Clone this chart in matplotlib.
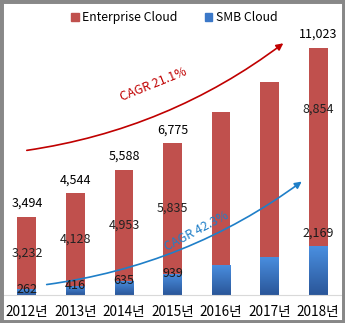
import numpy as np
import matplotlib.pyplot as plt
from matplotlib.patches import FancyArrowPatch, Rectangle
from matplotlib.colors import LinearSegmentedColormap

plt.rcParams['font.family'] = ['Noto Sans CJK KR', 'DejaVu Sans']

# data
years = ['2012년', '2013년', '2014년', '2015년', '2016년', '2017년', '2018년']
smb = [262, 416, 635, 939, 1340, 1700, 2169]
enterprise = [3232, 4128, 4953, 5835, 6830, 7810, 8854]
totals = [3494, 4544, 5588, 6775, 8170, 9510, 11023]
show_label = [True, True, True, True, False, False, True]

red = '#c0504d'
fig = plt.figure(figsize=(3.45, 3.23), dpi=100)
ax = fig.add_axes([0.005, 0.087, 0.99, 0.805])
x = np.arange(len(years))
w = 0.39

smb_bars = ax.bar(x, smb, w, color='#3b78c8', label='SMB Cloud', zorder=2)
ent_bars = ax.bar(x, enterprise, w, bottom=smb, color=red,
                  label='Enterprise Cloud', zorder=2)

# gradient on the SMB bars
cmap = LinearSegmentedColormap.from_list('g', ['#2a5699', '#4a8fe0'])
grad = np.linspace(0, 1, 100).reshape(-1, 1)
for b in smb_bars:
    bx, by = b.get_x(), b.get_y()
    im = ax.imshow(grad, cmap=cmap, origin='lower', aspect='auto',
                   extent=[bx, bx + b.get_width(), by, by + b.get_height()],
                   zorder=2.5)
    im.set_clip_path(b)

fs = 9
for i in range(len(years)):
    if not show_label[i]:
        continue
    ax.text(x[i], totals[i] + 300, f'{totals[i]:,}', ha='center', va='bottom',
            fontsize=fs, zorder=5)
    if i < 6:
        ey = smb[i] + enterprise[i] / 2
        sy = smb[i]
    else:
        ey = smb[i] + enterprise[i] * 0.69
        sy = smb[i] + 600
    ax.text(x[i], ey, f'{enterprise[i]:,}', ha='center', va='center',
            fontsize=fs, color='#222222', zorder=5)
    ax.text(x[i], sy, f'{smb[i]:,}', ha='center', va='center',
            fontsize=fs, color='#1a1a1a', zorder=5)

# CAGR arrows
a1 = FancyArrowPatch((-0.06, 6430), (5.33, 11300), connectionstyle='arc3,rad=0.13',
                     arrowstyle='-|>,head_length=4,head_width=2', color='#c00000',
                     lw=1.2, zorder=4)
ax.add_patch(a1)
ax.text(2.6, 9400, 'CAGR 21.1%', color='#c00000', fontsize=9, rotation=22,
        ha='center', va='center', zorder=5)
a2 = FancyArrowPatch((0.35, 446), (5.71, 5130), connectionstyle='arc3,rad=0.13',
                     arrowstyle='-|>,head_length=4,head_width=2', color='#1f7fc8',
                     lw=1.2, zorder=4)
ax.add_patch(a2)
ax.text(3.5, 2850, 'CAGR 42.3%', color='#1f7fc8', fontsize=9, rotation=28,
        ha='center', va='center', zorder=6)

ax.set_xlim(-0.52, 6.52)
ax.set_ylim(0, 11600)
ax.set_xticks(x)
ax.set_xticklabels(years, fontsize=9.8)
ax.tick_params(axis='x', length=0, pad=7)
ax.set_yticks([])
for s in ['top', 'right', 'left']:
    ax.spines[s].set_visible(False)
ax.spines['bottom'].set_color('#d9d9d9')

handles = [Rectangle((0, 0), 1, 1, color=red), Rectangle((0, 0), 1, 1, color='#3b78c8')]
fig.legend(handles, ['Enterprise Cloud', 'SMB Cloud'], loc='upper center',
           bbox_to_anchor=(0.505, 1.0), ncol=2, frameon=False, fontsize=8.8,
           handlelength=0.6, handleheight=0.6, handletextpad=0.3, columnspacing=2.2)

fig.patches.append(Rectangle((0, 0), 1, 1, transform=fig.transFigure, fill=False,
                             edgecolor='#888888', lw=5, zorder=10))
fig.savefig('out.png', dpi=100)
